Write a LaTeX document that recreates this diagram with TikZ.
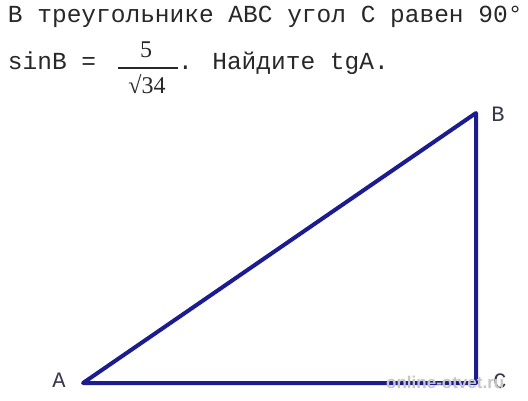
\documentclass[tikz,border=0pt]{standalone}
\usepackage{fontspec}
\setmainfont{Liberation Serif}
\newfontfamily\monof{Liberation Mono}
\newfontfamily\serf{Liberation Serif}
\newfontfamily\sansf{Liberation Sans}
\definecolor{navy}{RGB}{28,28,145}
\definecolor{txt}{RGB}{40,40,40}
\definecolor{lbl}{RGB}{55,55,75}
\begin{document}
\begin{tikzpicture}[x=1pt,y=-1pt,
  mtext/.style={inner sep=0pt,outer sep=0pt,text=txt,font=\monof\fontsize{24.5}{24.5}\selectfont,anchor=base west},
  ftext/.style={inner sep=0pt,outer sep=0pt,text=txt,font=\serf\fontsize{24}{24}\selectfont,anchor=base},
  vlabel/.style={inner sep=0pt,outer sep=0pt,text=lbl,font=\monof\fontsize{22}{22}\selectfont},
  side/.style={draw=navy,line width=4pt,line cap=round,line join=round}]
\fill[white] (0,0) rectangle (528,400);
\useasboundingbox (0,0) rectangle (528,400);
% problem text
\node[mtext] (l1) at (8,22) {В треугольнике АВС угол С равен 90°};
\node[mtext] (l2a) at (8,69) {sinB =};
\node[ftext] (num) at (146,57) {5};
\coordinate (fb1) at (118,68);
\coordinate (fb2) at (178,68);
\draw[txt,line width=1.8pt] (fb1) -- (fb2);
\node[ftext] (den) at (147,93) {√34};
\node[mtext] (l2b) at (178,69) {. Найдите tgA.};
% triangle
\coordinate (A) at (83,383);
\coordinate (C) at (476,383);
\coordinate (B) at (476,113);
\draw[side] (A) -- (B) -- (C) -- cycle;
% labels
\node[vlabel] (la) at (59,380) {A};
\node[vlabel] (lb) at (498,114) {B};
\node[vlabel] (lc) at (500,381) {C};
% watermark
\node[inner sep=0pt,text=gray!45,font=\sansf\fontsize{17}{17}\selectfont\bfseries,anchor=base west] (wm) at (386,388) {online-otvet.ru};
\end{tikzpicture}
\end{document}
